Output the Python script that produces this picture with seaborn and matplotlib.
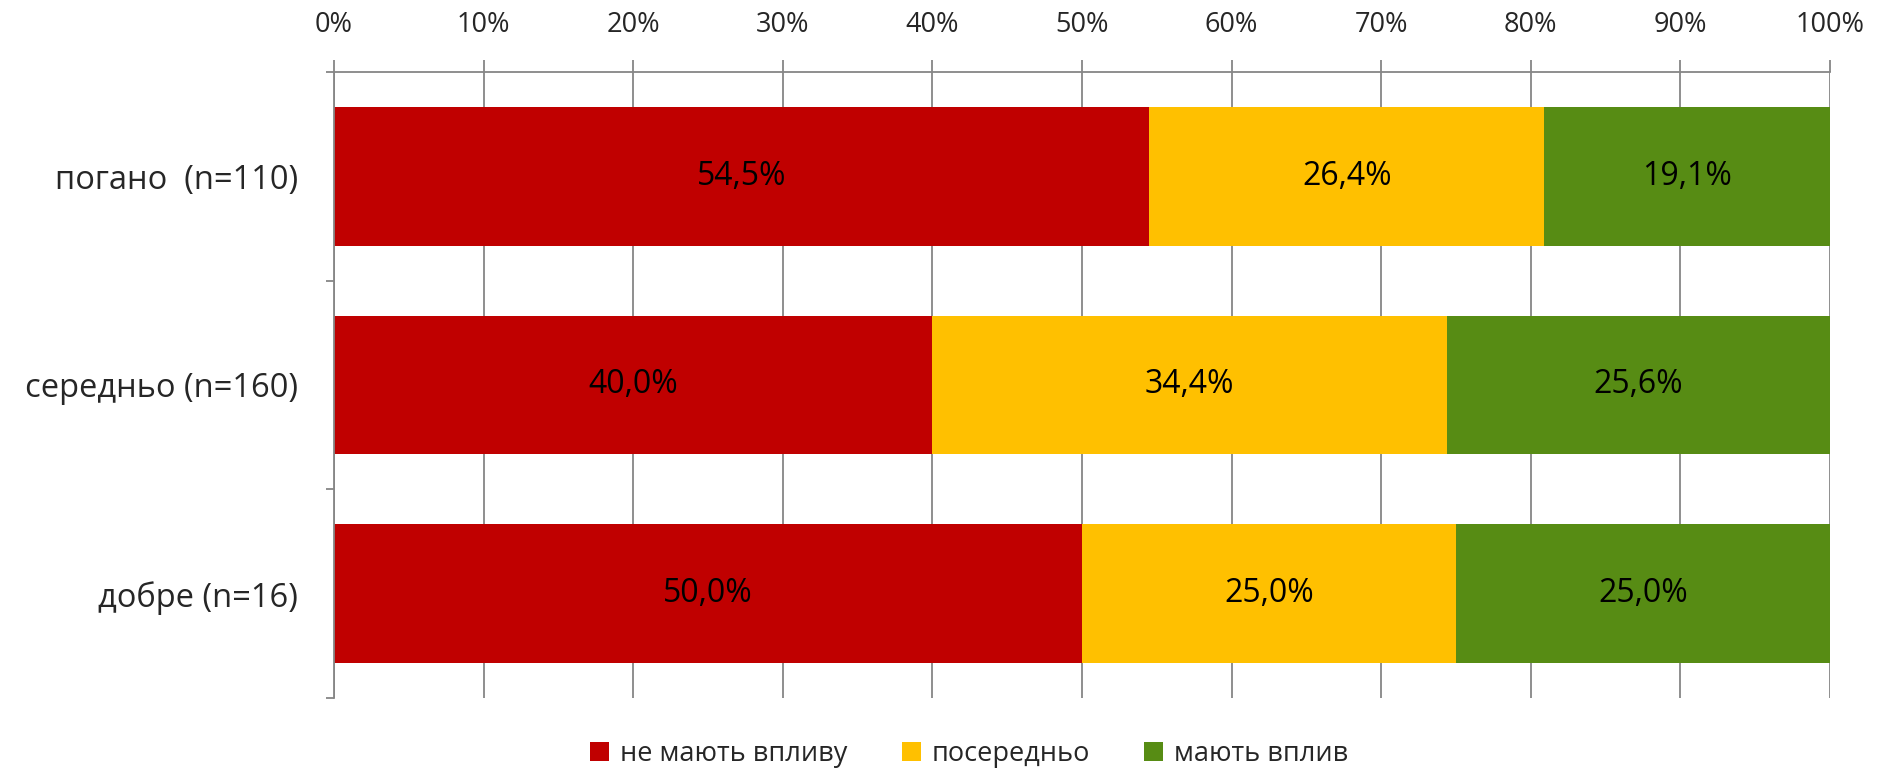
import numpy as np
import pandas as pd
import seaborn as sns
import matplotlib.pyplot as plt
from matplotlib.patches import Patch
from matplotlib.ticker import FixedLocator

categories = ['погано  (n=110)', 'середньо (n=160)', 'добре (n=16)']
series_names = ['не мають впливу', 'посередньо', 'мають вплив']
no_effect = [54.5, 40.0, 50.0]
medium = [26.4, 34.4, 25.0]
effect = [19.1, 25.6, 25.0]
colors = ['#C00000', '#FFC000', '#578C14']

sns.set_theme(style="white")
plt.rcParams['font.family'] = ['Open Sans', 'DejaVu Sans']

df = pd.DataFrame({'cat': categories, 'a': no_effect, 'b': medium, 'c': effect})
df['cum1'] = df['a']
df['cum2'] = df['a'] + df['b']
df['cum3'] = df['a'] + df['b'] + df['c']

fig = plt.figure(figsize=(18.82, 7.73), dpi=100)
ax = fig.add_axes([0.1775, 0.097, 0.9724 - 0.1775, 0.9069 - 0.097])

# stacked by drawing cumulative totals from the back
for col, color in zip(['cum3', 'cum2', 'cum1'], colors[::-1]):
    sns.barplot(data=df, x=col, y='cat', color=color, width=0.665,
                saturation=1, ax=ax, zorder=3, linewidth=0)

# segment labels
seg_vals = [no_effect, medium, effect]
for i in range(len(categories)):
    left = 0
    for vals in seg_vals:
        v = vals[i]
        ax.text(left + v / 2, i, f'{v:.1f}%'.replace('.', ','), ha='center',
                va='center', fontsize=23, color='black', zorder=5)
        left += v

ax.set_xlim(0, 100)
ax.set_ylim(2.5, -0.5)
ax.set_xlabel('')
ax.set_ylabel('')
ax.xaxis.tick_top()
ax.set_xticks(np.arange(0, 101, 10))
ax.set_xticklabels([f'{t}%' for t in range(0, 101, 10)], fontsize=19.5)
ax.tick_params(axis='x', which='major', direction='out', length=9, width=1.3,
               color='#868686', pad=15, top=True, bottom=False)
ax.grid(axis='x', color='#868686', linewidth=1.3, zorder=0)
ax.grid(axis='y', visible=False)

ax.set_yticks([0, 1, 2])
ax.set_yticklabels(categories, fontsize=23.5)
ax.tick_params(axis='y', which='major', length=0, pad=26)
ax.yaxis.set_minor_locator(FixedLocator([-0.5, 0.5, 1.5, 2.5]))
ax.tick_params(axis='y', which='minor', direction='out', length=6, width=1.3,
               color='#868686', left=True)

for side in ['right', 'bottom']:
    ax.spines[side].set_visible(False)
for side in ['left', 'top']:
    ax.spines[side].set_color('#868686')
    ax.spines[side].set_linewidth(1.3)
    ax.spines[side].set_zorder(4)

handles = [Patch(facecolor=c, edgecolor='none') for c in colors]
fig.legend(handles, series_names, loc='center', bbox_to_anchor=(0.515, 0.024),
           ncol=3, frameon=False, handlelength=0.7, handleheight=0.7,
           handletextpad=0.4, columnspacing=2.0,
           prop={'family': ['Open Sans', 'DejaVu Sans'], 'size': 19.5})

fig.savefig('out.png', dpi=100)
